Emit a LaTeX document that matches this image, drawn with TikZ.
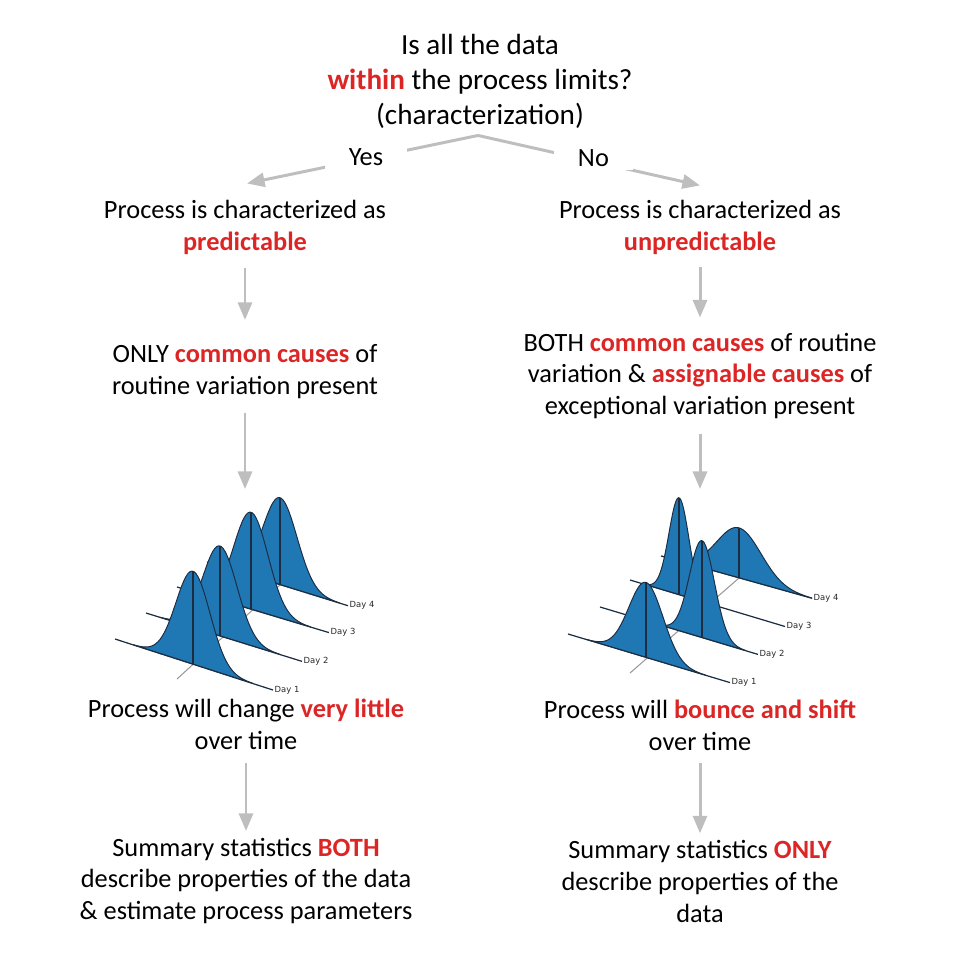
\documentclass[tikz,border=0pt]{standalone}
\usepackage{fontspec}
\setmainfont{Carlito}
\newfontfamily\dayfont{DejaVu Sans}
\usetikzlibrary{arrows.meta, positioning, calc}
\definecolor{hired}{RGB}{220,38,38}
\definecolor{flowgray}{RGB}{190,190,190}
\definecolor{ridgeblue}{RGB}{31,119,180}
\definecolor{ridgeedge}{RGB}{28,45,66}
\newcommand{\emr}[1]{\textcolor{hired}{\bfseries #1}}

\begin{document}
\begin{tikzpicture}[
    x=0.02cm, y=-0.02cm,
    title/.style={
        align=center,
        inner sep=0pt,
        font=\fontsize{16.6}{19.9}\selectfont
    },
    txt/.style={
        align=center,
        inner sep=0pt,
        font=\fontsize{15}{18.2}\selectfont
    },
    choice/.style={
        fill=white,
        inner xsep=13.5pt,
        inner ysep=2pt,
        font=\fontsize{15}{18.2}\selectfont
    },
    flow/.style={
        -{Triangle[length=10pt, width=8pt]},
        line width=1.7pt,
        draw=flowgray
    },
    ridge/.style={
        fill=ridgeblue,
        draw=ridgeedge,
        line width=0.55pt,
        line join=round
    },
    dayaxis/.style={
        draw=ridgeedge,
        line width=0.7pt
    },
    depthaxis/.style={
        draw=gray!80,
        line width=0.6pt
    },
    daylab/.style={
        anchor=west,
        inner sep=0.6pt,
        font=\dayfont\fontsize{4.8}{5}\selectfont,
        black!85
    }
]
\useasboundingbox (0,0) rectangle (960,960);

% Nodes
\node (q) [title] at (480,81) {Is all the data\\\emr{within} the process limits?\\(characterization)};
\node (pred) [txt] at (245,227) {Process is characterized as\\\emr{predictable}};
\node (unpred) [txt] at (700,227) {Process is characterized as\\\emr{unpredictable}};
\node (common) [txt] at (245,372) {ONLY \emr{common causes} of\\routine variation present};
\node (both) [txt] at (700,376) {BOTH \emr{common causes} of routine\\variation \& \emr{assignable causes} of\\exceptional variation present};
\node (little) [txt] at (246,724) {Process will change \emr{very little}\\over time};
\node (bounce) [txt] at (700,725) {Process will \emr{bounce and shift}\\over time};
\node (sumboth) [txt] at (246,881) {Summary statistics \emr{BOTH}\\describe properties of the data\\\& estimate process parameters};
\node (sumonly) [txt] at (700,881) {Summary statistics \emr{ONLY}\\describe properties of the\\data};

\coordinate (fork) at ($(q.south)+(-2,7)$);
\coordinate (ridgesL) at (245,489);
\coordinate (ridgesR) at (700,489);

% Ridges (back to front)
\draw[depthaxis] (177,679) -- (281,584);
\draw[depthaxis] (630,673) -- (739,578);
\foreach \pid/\ox/\oy/\lng/\slp/\mn/\sg/\hgt/\dd in {
    L/207/562/141/0.31/73/17/87/4, L/177/587/152/0.30/74/17/97/3,
    L/146/613/156/0.31/74/17/90/2, L/115/639/158/0.323/78/17/93/1,
    R/661/556/151/0.28/78/22/50/4, R/630/580/155/0.30/49/10/97/3,
    R/600/607/158/0.30/102/12.5/97/2, R/568/634/162/0.30/78/17/75/1}{
    \pgfmathsetmacro\lo{max(0,\mn-3.5*\sg)}
    \pgfmathsetmacro\hi{min(\lng,\mn+3.5*\sg)}
    \draw[dayaxis] (\ox,\oy) -- ({\ox+\lng},{\oy+\slp*\lng}) node[daylab] (\pid\dd) {Day \dd};
    \filldraw[ridge] plot[variable=\t, domain=\lo:\hi, samples=60, smooth]
        ({\ox+\t},{\oy+\slp*\t-\hgt*exp(0-((\t-\mn)*(\t-\mn))/(2*\sg*\sg))}) -- cycle;
    \draw[dayaxis] ({\ox+\mn},{\oy+\slp*\mn}) -- ++(0,-\hgt);
}

% Paths
\draw [flow] (fork) -- node[choice, pos=0.485, yshift=1pt] (yes) {Yes} ($(pred.north)+(2,-16)$);
\draw [flow] (fork) -- node[choice, pos=0.52, yshift=2pt] (no) {No} ($(unpred.north)+(0,-14)$);
\draw [flow, shorten <=7.5pt, shorten >=14pt] (pred) -- (common);
\draw [flow, shorten <=7pt, shorten >=8.5pt] (unpred) -- (both);
\draw [flow, shorten <=7.5pt] (common) -- (ridgesL);
\draw [flow, shorten <=8pt] (both) -- (ridgesR);
\draw [flow, shorten <=7.5pt, shorten >=3.7pt] (little) -- (sumboth);
\draw [flow, shorten <=7pt, shorten >=3.5pt] (bounce) -- (sumonly);

\end{tikzpicture}
\end{document}
